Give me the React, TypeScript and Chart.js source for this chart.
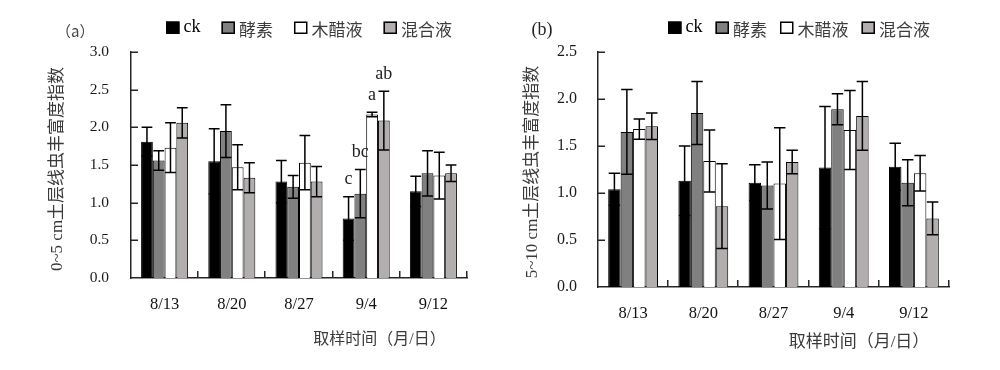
import React, { useEffect, useRef } from "react";
import { Chart, registerables } from "chart.js";

Chart.register(...registerables);

// ---------- data ----------
const categories = ["8/13", "8/20", "8/27", "9/4", "9/12"];
const seriesNames = ["ck", "酵素", "木醋液", "混合液"];
const seriesColors = ["#000000", "#808080", "#ffffff", "#b2aeae"];

// (a) 0~5 cm
const aCk = [1.81, 1.55, 1.28, 0.79, 1.15];
const aCkErr = [0.19, 0.43, 0.28, 0.29, 0.2];
const aEnzyme = [1.56, 1.95, 1.21, 1.12, 1.39];
const aEnzymeErr = [0.13, 0.35, 0.15, 0.32, 0.3];
const aVinegar = [1.73, 1.47, 1.53, 2.17, 1.36];
const aVinegarErr = [0.33, 0.3, 0.36, 0.03, 0.31];
const aMix = [2.06, 1.33, 1.28, 2.09, 1.39];
const aMixErr = [0.2, 0.2, 0.2, 0.39, 0.11];
const aSigCk = ["", "", "", "c", ""];
const aSigEnzyme = ["", "", "", "bc", ""];
const aSigVinegar = ["", "", "", "a", ""];
const aSigMix = ["", "", "", "ab", ""];

// (b) 5~10 cm
const bCk = [1.04, 1.13, 1.11, 1.27, 1.28];
const bCkErr = [0.17, 0.37, 0.19, 0.65, 0.25];
const bEnzyme = [1.65, 1.85, 1.08, 1.89, 1.11];
const bEnzymeErr = [0.45, 0.335, 0.25, 0.165, 0.245];
const bVinegar = [1.68, 1.34, 1.1, 1.67, 1.21];
const bVinegarErr = [0.107, 0.33, 0.595, 0.42, 0.19];
const bMix = [1.71, 0.86, 1.33, 1.82, 0.73];
const bMixErr = [0.14, 0.45, 0.125, 0.365, 0.175];
const noSig = ["", "", "", "", ""];

const yTicksA = { max: 3.0, step: 0.5 };
const yTicksB = { max: 2.5, step: 0.5 };

const xTitle = "取样时间（月/日）";
const yTitleA = "0~5 cm土层线虫丰富度指数";
const yTitleB = "5~10 cm土层线虫丰富度指数";

// ---------- layout / style ----------
const W = 500;
const H = 370;
const SERIF = '"Liberation Serif", "Times New Roman", serif';
const MIXED = '"Liberation Serif", "Noto Sans CJK SC", serif';
const AXIS = "#262626";

const panelA = {
  left: 0,
  area: { left: 131, right: 467, top: 52, bottom: 278 },
  catPct: 0.7,
  yMax: yTicksA.max,
  yStep: yTicksA.step,
  yTickSize: 15.5,
  yTickPad: 22,
  xTickPad: 17,
  yTitle: yTitleA,
  yTitleX: 58,
  yTitleY: 169,
  xTitleX: 379.5,
  xTitleY: 340,
  xTitleSize: 16,
  legendX: 166,
  legendGap: 21,
  panelLabel: "（a）",
  panelLabelX: 56,
  panelLabelY: 31,
  panelLabelFont: '15px "Noto Sans CJK SC", serif',
  panelLabelColor: "#444",
  series: [
    { values: aCk, errors: aCkErr, sig: aSigCk },
    { values: aEnzyme, errors: aEnzymeErr, sig: aSigEnzyme },
    { values: aVinegar, errors: aVinegarErr, sig: aSigVinegar },
    { values: aMix, errors: aMixErr, sig: aSigMix },
  ],
};

const panelB = {
  left: 500,
  area: { left: 98, right: 449, top: 52, bottom: 287 },
  catPct: 0.71,
  yMax: yTicksB.max,
  yStep: yTicksB.step,
  yTickSize: 16,
  yTickPad: 21,
  xTickPad: 16.5,
  yTitle: yTitleB,
  yTitleX: 33,
  yTitleY: 172,
  xTitleX: 359,
  xTitleY: 343,
  xTitleSize: 17,
  legendX: 168,
  legendGap: 13,
  panelLabel: "(b)",
  panelLabelX: 31.5,
  panelLabelY: 30,
  panelLabelFont: "18px " + SERIF,
  panelLabelColor: "#222",
  series: [
    { values: bCk, errors: bCkErr, sig: noSig },
    { values: bEnzyme, errors: bEnzymeErr, sig: noSig },
    { values: bVinegar, errors: bVinegarErr, sig: noSig },
    { values: bMix, errors: bMixErr, sig: noSig },
  ],
};

// ---------- plugin ----------
const decorPlugin = {
  id: "panelDecor",
  afterDatasetsDraw(chart: any, _args: any, opts: any) {
    const ctx = chart.ctx;
    const yScale = chart.scales.y;
    ctx.save();
    chart.data.datasets.forEach((ds: any, i: number) => {
      const meta = chart.getDatasetMeta(i);
      meta.data.forEach((el: any, j: number) => {
        const v = ds.data[j];
        const e = ds.errorBars[j];
        const x = el.x;
        const half = el.width / 2 - 0.5;
        const yt = yScale.getPixelForValue(v + e);
        const yb = yScale.getPixelForValue(v - e);
        ctx.strokeStyle = "#000";
        ctx.lineWidth = 1.5;
        ctx.beginPath();
        ctx.moveTo(x, yt);
        ctx.lineTo(x, yb);
        ctx.moveTo(x - half, yt);
        ctx.lineTo(x + half, yt);
        ctx.moveTo(x - half, yb);
        ctx.lineTo(x + half, yb);
        ctx.stroke();
        const s = ds.sigLetters[j];
        if (s) {
          ctx.font = "18px " + SERIF;
          ctx.fillStyle = "#222";
          ctx.textAlign = "center";
          ctx.textBaseline = "alphabetic";
          ctx.fillText(s, x, yt - 12.5);
        }
      });
    });
    ctx.restore();
  },
  afterDraw(chart: any, _args: any, opts: any) {
    const ctx = chart.ctx;
    const area = chart.chartArea;
    const yScale = chart.scales.y;
    ctx.save();
    // inward tick marks
    ctx.strokeStyle = AXIS;
    ctx.lineWidth = 1.5;
    ctx.beginPath();
    yScale.ticks.forEach((t: any) => {
      if (t.value === 0) return;
      const y = Math.round(yScale.getPixelForValue(t.value)) + 0.25;
      ctx.moveTo(area.left, y);
      ctx.lineTo(area.left + 7, y);
    });
    const n = chart.data.labels.length;
    const cw = (area.right - area.left) / n;
    for (let k = 1; k <= n; k++) {
      const x = Math.round(area.left + k * cw) - 0.25;
      ctx.moveTo(x, area.bottom);
      ctx.lineTo(x, area.bottom - 7);
    }
    ctx.stroke();

    // y title
    ctx.save();
    ctx.translate(opts.yTitleX, opts.yTitleY);
    ctx.rotate(-Math.PI / 2);
    ctx.font = "17px " + MIXED;
    ctx.fillStyle = "#3a3a3a";
    ctx.textAlign = "center";
    ctx.textBaseline = "middle";
    ctx.fillText(opts.yTitle, 0, 0);
    ctx.restore();

    // x title
    ctx.font = opts.xTitleSize + "px " + MIXED;
    ctx.fillStyle = "#3a3a3a";
    ctx.textAlign = "center";
    ctx.textBaseline = "middle";
    ctx.fillText(opts.xTitle, opts.xTitleX, opts.xTitleY);

    // panel label
    ctx.font = opts.panelLabelFont;
    ctx.fillStyle = opts.panelLabelColor;
    ctx.textAlign = "left";
    ctx.textBaseline = "middle";
    ctx.fillText(opts.panelLabel, opts.panelLabelX, opts.panelLabelY);

    // legend
    let x = opts.legendX;
    chart.data.datasets.forEach((ds: any) => {
      ctx.fillStyle = ds.backgroundColor;
      ctx.fillRect(x, 21.5, 13.5, 12.5);
      ctx.strokeStyle = "#000";
      ctx.lineWidth = 1.5;
      ctx.strokeRect(x + 0.75, 22.25, 12, 11);
      x += 13.5 + 4;
      const latin = /^[A-Za-z]+$/.test(ds.label);
      ctx.textAlign = "left";
      ctx.textBaseline = "alphabetic";
      if (latin) {
        ctx.font = "18px " + SERIF;
        ctx.fillStyle = "#000";
        ctx.fillText(ds.label, x, 31.5);
      } else {
        ctx.font = '17px "Noto Sans CJK SC", sans-serif';
        ctx.fillStyle = "#3c3c3c";
        ctx.fillText(ds.label, x, 36);
      }
      x += ctx.measureText(ds.label).width + opts.legendGap;
    });
    ctx.restore();
  },
};

function makeConfig(p: any): any {
  return {
    type: "bar",
    data: {
      labels: categories,
      datasets: p.series.map((s: any, i: number) => ({
        label: seriesNames[i],
        data: s.values,
        errorBars: s.errors,
        sigLetters: s.sig,
        backgroundColor: seriesColors[i],
        borderColor: "#000",
        borderWidth: 1,
        borderSkipped: "bottom",
        categoryPercentage: p.catPct,
        barPercentage: 1,
      })),
    },
    options: {
      responsive: false,
      animation: false,
      events: [],
      layout: {
        padding: { left: 0, top: p.area.top, right: W - p.area.right, bottom: 0 },
      },
      plugins: {
        legend: { display: false },
        tooltip: { enabled: false },
        panelDecor: {
          yTitle: p.yTitle,
          yTitleX: p.yTitleX,
          yTitleY: p.yTitleY,
          xTitle: xTitle,
          xTitleX: p.xTitleX,
          xTitleY: p.xTitleY,
          xTitleSize: p.xTitleSize,
          legendX: p.legendX,
          legendGap: p.legendGap,
          panelLabel: p.panelLabel,
          panelLabelX: p.panelLabelX,
          panelLabelY: p.panelLabelY,
          panelLabelFont: p.panelLabelFont,
          panelLabelColor: p.panelLabelColor,
        },
      },
      scales: {
        x: {
          grid: { display: false, drawTicks: false },
          border: { display: true, color: AXIS, width: 1.5 },
          ticks: {
            font: { family: SERIF, size: 16.5 },
            color: "#111",
            padding: p.xTickPad,
            maxRotation: 0,
            autoSkip: false,
          },
          afterFit: (s: any) => {
            s.height = H - p.area.bottom;
          },
        },
        y: {
          min: 0,
          max: p.yMax,
          grid: { display: false, drawTicks: false },
          border: { display: true, color: AXIS, width: 1.5 },
          ticks: {
            stepSize: p.yStep,
            callback: (v: any) => Number(v).toFixed(1),
            font: { family: SERIF, size: p.yTickSize },
            color: "#1a1a1a",
            padding: p.yTickPad,
          },
          afterFit: (s: any) => {
            s.width = p.area.left;
          },
        },
      },
    },
    plugins: [decorPlugin],
  };
}

function Panel({ p }: { p: any }) {
  const ref = useRef<HTMLCanvasElement>(null);
  useEffect(() => {
    const chart = new Chart(ref.current as HTMLCanvasElement, makeConfig(p));
    return () => chart.destroy();
  }, []);
  return (
    <canvas
      ref={ref}
      width={W}
      height={H}
      style={{ position: "absolute", left: p.left, top: 0, width: W, height: H }}
    />
  );
}

export default function App() {
  return (
    <div
      style={{
        position: "absolute",
        left: 0,
        top: 0,
        width: 1000,
        height: 370,
        background: "#fff",
        overflow: "hidden",
      }}
    >
      <Panel p={panelA} />
      <Panel p={panelB} />
    </div>
  );
}
